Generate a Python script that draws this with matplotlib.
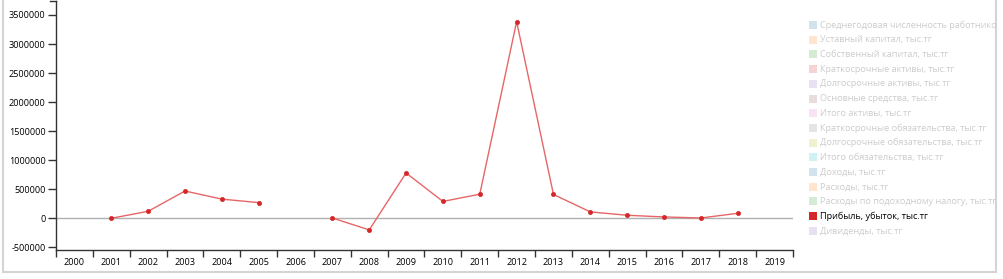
import numpy as np
import matplotlib
matplotlib.use("Agg")
import matplotlib.pyplot as plt
from matplotlib.patches import Rectangle

plt.rcParams['font.family'] = ['Open Sans', 'DejaVu Sans']

years = list(range(2000, 2020))
profit = [np.nan, 0, 120000, 470000, 330000, 270000, np.nan, 5000, -200000, 780000,
          290000, 415000, 3385000, 410000, 110000, 52000, 23000, 5000, 86000, np.nan]
y_ticks = [-500000, 0, 500000, 1000000, 1500000, 2000000, 2500000, 3000000, 3500000]

legend_labels = [
    "Среднегодовая численность работников",
    "Уставный капитал, тыс.тг",
    "Собственный капитал, тыс.тг",
    "Краткосрочные активы, тыс.тг",
    "Долгосрочные активы, тыс.тг",
    "Основные средства, тыс.тг",
    "Итого активы, тыс.тг",
    "Краткосрочные обязательства, тыс.тг",
    "Долгосрочные обязательства, тыс.тг",
    "Итого обязательства, тыс.тг",
    "Доходы, тыс.тг",
    "Расходы, тыс.тг",
    "Расходы по подоходному налогу, тыс.тг",
    "Прибыль, убыток, тыс.тг",
    "Дивиденды, тыс.тг",
]
palette = ["#1f77b4", "#ff7f0e", "#2ca02c", "#d62728", "#9467bd", "#8c564b",
           "#e377c2", "#7f7f7f", "#bcbd22", "#17becf"]
active = "Прибыль, убыток, тыс.тг"

W, H = 1004, 279
fig = plt.figure(figsize=(W / 100, H / 100), dpi=100)

def fx(px):
    return px / W

def fy(py):
    return 1 - py / H

# outer frame
frame = fig.add_axes([0, 0, 1, 1])
frame.set_xlim(0, W)
frame.set_ylim(H, 0)
frame.axis("off")
frame.add_patch(Rectangle((3, -5), 993, 277, fill=False, edgecolor="#d4d4d4", lw=1.5))

# main axes
left, right, top, bottom = 56, 793, 1, 250
ax = fig.add_axes([fx(left), fy(bottom), fx(right - left), (bottom - top) / H])
x = np.arange(len(years))
ymin, ymax = -546000, 3741000
ax.set_xlim(-0.5, len(years) - 0.5)
ax.set_ylim(ymin, ymax)

ax.axhline(0, color="#b0b0b0", lw=1, zorder=1)
ax.plot(x, profit, color="#e66668", lw=1, zorder=2)
ax.plot(x, profit, "o", color="#d62728", ms=3, mec="#d62728", mew=0.5, zorder=3)

for s in ["top", "right"]:
    ax.spines[s].set_visible(False)
for s in ["left", "bottom"]:
    ax.spines[s].set_color("#333333")
    ax.spines[s].set_linewidth(1)

ax.set_yticks(y_ticks)
ax.set_yticklabels([str(v) for v in y_ticks])
ax.tick_params(axis="y", length=6, width=1, color="#333333", labelsize=6.6, pad=1.5)

ax.set_xticks(x)
ax.set_xticklabels([str(y) for y in years])
ax.set_xticks(np.arange(len(years) + 1) - 0.5, minor=True)
ax.tick_params(axis="x", which="major", length=0, labelsize=6.6, pad=6)
ax.tick_params(axis="x", which="minor", length=5, width=1, color="#333333")
# outer tick at top of y axis
ax.plot([-0.5 - 6 / 36.85, -0.5], [ymax, ymax], color="#333333", lw=1, clip_on=False)

# legend panel
lg = fig.add_axes([fx(800), fy(272), fx(996 - 800), 271 / H])
lg.set_xlim(800, 996)
lg.set_ylim(272, 1)
lg.axis("off")
for i, lab in enumerate(legend_labels):
    cy = 25 + i * 14.7
    col = palette[i % len(palette)]
    is_active = lab == active
    lg.add_patch(Rectangle((809, cy - 4), 8, 8, facecolor=col,
                           alpha=1.0 if is_active else 0.2, lw=0))
    lg.text(820.5, cy, lab, fontsize=6.6, va="center", ha="left",
            color="#000000" if is_active else "#cccccc", clip_on=True)

fig.savefig("out.png", dpi=100)
